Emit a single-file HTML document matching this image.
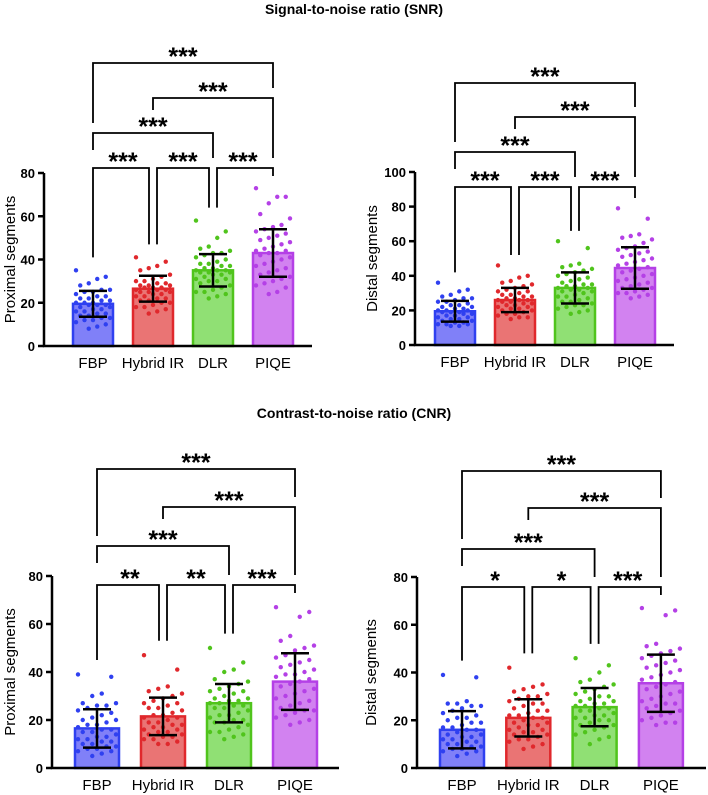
<!DOCTYPE html>
<html><head><meta charset="utf-8"><style>
body{margin:0;background:#fff;}
svg{display:block;font-family:"Liberation Sans",Arial,sans-serif;}
</style></head><body>
<svg id="chart" width="708" height="795" viewBox="0 0 708 795" xmlns="http://www.w3.org/2000/svg">
<text x="354" y="14" text-anchor="middle" font-size="14" font-weight="bold">Signal-to-noise ratio (SNR)</text>
<text x="354" y="418" text-anchor="middle" font-size="14" font-weight="bold">Contrast-to-noise ratio (CNR)</text>
</svg>
<script>
const categories = ["FBP","Hybrid IR","DLR","PIQE"];
const p1Means=[19.5,26.5,35,43], p1SD=[6,6,7.5,11];
const p2Means=[19.5,26,33,44.5], p2SD=[6,7,9,12];
const p3Means=[16.5,21.5,27,36], p3SD=[8,7.8,8,11.8];
const p4Means=[16,21,25.5,35.5], p4SD=[7.8,7.8,8,12];
const p1Ticks=[0,20,40,60,80], p2Ticks=[0,20,40,60,80,100], p3Ticks=[0,20,40,60,80], p4Ticks=[0,20,40,60,80];
const p1Stars=["***","***","***","***","***","***"];
const p2Stars=["***","***","***","***","***","***"];
const p3Stars=["**","**","***","***","***","***"];
const p4Stars=["*","*","***","***","***","***"];
const comparisons=[[0,1,1],[1,2,1],[2,3,1],[0,2,2],[1,3,3],[0,3,4]];
const p1Dots=[
[35,32,31,29,28,26,26,25,25,24,23,23,22,22,21,21,20,20,20,19,19,19,18,18,17,17,16,16,15,15,14,14,13,13,12,12,11,10,9,8],
[41,39,37,36,35,33,32,31,30,30,29,29,28,28,28,27,27,27,26,26,26,25,25,25,24,24,23,23,22,22,21,21,20,20,19,18,18,17,16,15],
[58,53,50,46,45,44,43,43,42,41,40,39,38,38,37,37,36,36,35,35,35,34,34,34,33,33,32,31,31,30,30,29,28,27,26,25,25,24,23,22],
[73,69,69,66,61,59,56,55,54,53,52,51,50,49,48,47,46,45,44,44,43,43,42,41,40,39,38,37,36,35,34,33,32,31,30,29,28,27,25,24]];
const p2Dots=[
[36,32,31,29,28,27,27,26,25,25,24,23,23,22,22,21,21,20,20,20,19,19,19,18,18,17,17,16,16,15,15,14,14,13,13,12,12,12,11,11],
[46,40,39,37,36,35,34,33,32,31,31,30,29,29,28,28,27,27,26,26,26,25,25,24,24,23,23,22,22,21,21,20,20,19,18,18,17,16,16,15],
[60,56,47,46,45,44,43,42,41,40,39,38,37,36,35,35,34,34,33,33,32,32,31,31,30,29,28,28,27,26,25,25,24,23,23,22,21,20,19,18],
[79,73,64,63,62,61,59,57,56,55,54,53,52,51,50,49,48,47,46,45,44,43,42,41,40,39,38,37,36,35,34,33,33,32,31,30,30,29,28,27]];
const p3Dots=[
[39,38,31,30,27,27,26,26,25,24,23,22,21,20,20,19,18,18,17,16,16,15,15,14,13,13,12,12,11,11,10,10,9,9,8,8,7,7,6,5],
[47,41,34,33,32,31,30,29,28,27,27,26,25,25,24,23,22,22,21,21,20,19,19,18,18,17,17,16,16,15,15,14,14,13,13,12,12,11,10,10],
[50,44,41,40,37,36,35,34,33,32,32,31,30,29,29,28,28,27,27,26,26,25,25,24,23,22,22,21,20,20,19,19,18,17,16,15,15,14,13,12],
[67,65,63,55,53,51,50,49,47,46,45,44,43,42,41,40,39,39,38,37,36,35,34,33,32,31,30,29,28,27,26,25,24,24,23,22,21,20,19,18]];
const p4Dots=[
[39,38,28,27,27,26,26,25,24,23,22,21,21,20,19,19,18,17,17,16,16,15,14,14,13,13,12,12,11,11,10,10,9,9,8,8,7,7,6,5],
[42,35,34,33,32,31,30,30,29,28,27,27,26,25,24,24,23,22,22,21,21,20,19,19,18,18,17,16,16,15,15,14,14,13,12,12,11,10,9,8],
[46,43,40,37,36,35,34,33,32,31,30,30,29,28,28,27,27,26,26,25,25,24,24,23,22,22,21,21,20,20,19,18,18,17,16,15,14,13,12,10],
[67,66,64,52,51,50,49,48,47,46,45,44,43,42,41,40,39,38,37,36,35,34,33,32,31,30,29,28,27,27,26,25,24,23,22,21,20,19,19,18]];

const fills=["#8080f8","#ea7474","#90e074","#d282f0"];
const strokes=["#2f40f0","#e0282c","#50c41c","#b440e6"];
const NS="http://www.w3.org/2000/svg";
const svg=document.getElementById('chart');
function mk(tag,attrs,parent,txt){const e=document.createElementNS(NS,tag);for(const k in attrs)e.setAttribute(k,attrs[k]);if(txt!==undefined)e.textContent=txt;(parent||svg).appendChild(e);return e;}

function panel(cfg){
  const g=mk('g',{});
  
  
  const ymax=cfg.ticks[cfg.ticks.length-1];
  const y=v=>cfg.y0-(v/ymax)*(cfg.y0-cfg.yTop);
  const x=i=>cfg.c0+i*cfg.step;
  const w=cfg.bw;
  cfg.means.forEach((m,i)=>{
    const r=mk('rect',{x:x(i)-w/2,y:y(m),width:w,height:cfg.y0-y(m),fill:fills[i],stroke:strokes[i],'stroke-width':2.5},g);
    
    
  });
  cfg.dots.forEach((arr,i)=>{
    arr.forEach((v,k)=>{
      const off=(((k*7)%9)-4)/4*(w/2-3);
      const c=mk('circle',{cx:x(i)+off,cy:y(v),r:2.2,fill:strokes[i]},g);
      
      
    });
  });
  cfg.means.forEach((m,i)=>{
    const lo=m-cfg.sd[i],hi=m+cfg.sd[i];
    const eb=mk('path',{d:`M${x(i)},${y(hi)}V${y(lo)}M${x(i)-14},${y(hi)}H${x(i)+14}M${x(i)-14},${y(lo)}H${x(i)+14}`,stroke:'#000','stroke-width':2.5,fill:'none'},g);
    
    
  });
  const ax=mk('path',{d:`M${cfg.ax},${cfg.yTop}V${cfg.y0}H${cfg.xEnd}`,stroke:'#000','stroke-width':2.5,fill:'none'},g);
  
  
  cfg.ticks.forEach(t=>{
    mk('line',{x1:cfg.ax-6,x2:cfg.ax,y1:y(t),y2:y(t),stroke:'#000','stroke-width':2.5},g);
    const tl=mk('text',{x:cfg.ax-9,y:y(t)+5,'text-anchor':'end','font-size':13,'font-weight':'bold'},g,String(t));
    
    
  });
  categories.forEach((c,i)=>{
    const xl=mk('text',{x:x(i),y:cfg.y0+22,'text-anchor':'middle','font-size':15},g,c);
    
    
  });
  const ty=(cfg.y0+cfg.yTop)/2;
  const yt=mk('text',{x:cfg.titleX,y:ty,'text-anchor':'middle','font-size':15,transform:`rotate(-90 ${cfg.titleX} ${ty})`},g,cfg.ytitle);
  
  
  const lev=cfg.levels;
  const dmax=cfg.dots.map(a=>Math.max(...a));
  comparisons.forEach(([a,b,l],k)=>{
    const by=lev[l-1];
    let xa=x(a),xb=x(b),ya,yb;
    if(l===1){
      if(a>0)xa+=4; if(b<3)xb-=4;
      ya=Math.max(by+8,y(dmax[a]+6)); yb=Math.max(by+8,y(dmax[b]+6));
    } else if(l===2){ya=by+17;yb=lev[0]-10;}
    else if(l===3){ya=by+12;yb=lev[0]-10;}
    else {ya=lev[1]-10;yb=lev[2]-10;}
    const br=mk('path',{d:`M${xa},${ya}V${by}H${xb}V${yb}`,stroke:'#000','stroke-width':1.8,fill:'none'},g);
    
    
    const st=mk('text',{x:(x(a)+x(b))/2,y:by+2,'text-anchor':'middle','font-size':25,'font-weight':'bold'},g,cfg.stars[k]);
    
    
  });
}
panel({name:'snr-proximal-panel',means:p1Means,sd:p1SD,dots:p1Dots,ticks:p1Ticks,stars:p1Stars,ax:44,y0:346,yTop:173,xEnd:312,c0:93,step:60,bw:40,levels:[168,133,98,63],titleX:15,ytitle:'Proximal segments'});
panel({name:'snr-distal-panel',means:p2Means,sd:p2SD,dots:p2Dots,ticks:p2Ticks,stars:p2Stars,ax:415,y0:345,yTop:172,xEnd:674,c0:455,step:60,bw:40,levels:[187,152,117,83],titleX:377,ytitle:'Distal segments'});
panel({name:'cnr-proximal-panel',means:p3Means,sd:p3SD,dots:p3Dots,ticks:p3Ticks,stars:p3Stars,ax:52,y0:768,yTop:576,xEnd:339,c0:97,step:66,bw:44,levels:[585,546,507,469],titleX:15,ytitle:'Proximal segments'});
panel({name:'cnr-distal-panel',means:p4Means,sd:p4SD,dots:p4Dots,ticks:p4Ticks,stars:p4Stars,ax:417,y0:768,yTop:577,xEnd:706,c0:462,step:66.3,bw:44,levels:[587,549,508,471],titleX:376,ytitle:'Distal segments'});
</script>
</body></html>
